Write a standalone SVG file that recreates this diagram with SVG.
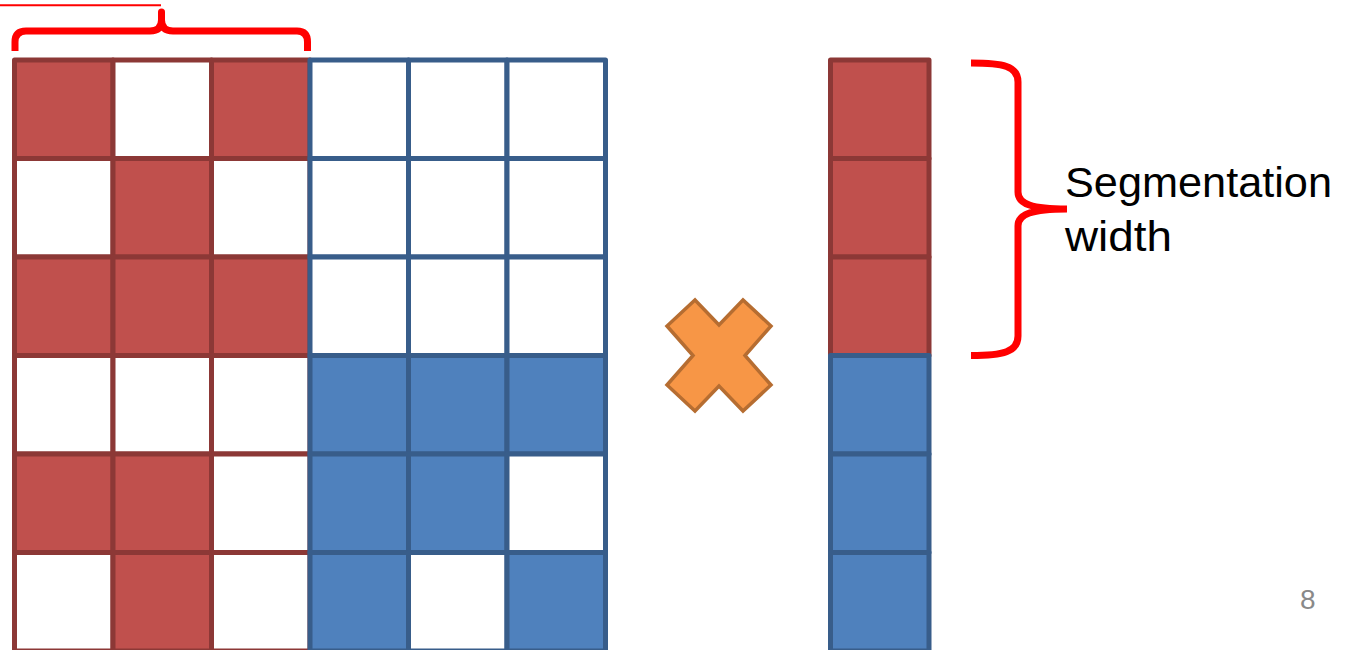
<svg xmlns="http://www.w3.org/2000/svg" width="1349" height="650" viewBox="0 0 1349 650">
<style>
.r{fill:#C0504D;stroke:#8C3836;stroke-width:5;stroke-linejoin:round}
.rw{fill:#FFFFFF;stroke:#8C3836;stroke-width:5;stroke-linejoin:round}
.b{fill:#4F81BD;stroke:#385D8A;stroke-width:5;stroke-linejoin:round}
.bw{fill:#FFFFFF;stroke:#385D8A;stroke-width:5;stroke-linejoin:round}
.br{fill:none;stroke:#FF0000;stroke-width:7}
.lbl{font-family:"Liberation Sans",Arial,sans-serif;font-size:43px;fill:#000000}
</style>
<rect width="1349" height="650" fill="#FFFFFF"/>
<g id="matrix-red">
<rect class="r" x="14.5" y="60" width="98.5" height="98.5"/>
<rect class="rw" x="113" y="60" width="98.5" height="98.5"/>
<rect class="r" x="211.5" y="60" width="98.5" height="98.5"/>
<rect class="rw" x="14.5" y="158.5" width="98.5" height="98.5"/>
<rect class="r" x="113" y="158.5" width="98.5" height="98.5"/>
<rect class="rw" x="211.5" y="158.5" width="98.5" height="98.5"/>
<rect class="r" x="14.5" y="257" width="98.5" height="98.5"/>
<rect class="r" x="113" y="257" width="98.5" height="98.5"/>
<rect class="r" x="211.5" y="257" width="98.5" height="98.5"/>
<rect class="rw" x="14.5" y="355.5" width="98.5" height="98.5"/>
<rect class="rw" x="113" y="355.5" width="98.5" height="98.5"/>
<rect class="rw" x="211.5" y="355.5" width="98.5" height="98.5"/>
<rect class="r" x="14.5" y="454" width="98.5" height="98.5"/>
<rect class="r" x="113" y="454" width="98.5" height="98.5"/>
<rect class="rw" x="211.5" y="454" width="98.5" height="98.5"/>
<rect class="rw" x="14.5" y="552.5" width="98.5" height="98.5"/>
<rect class="r" x="113" y="552.5" width="98.5" height="98.5"/>
<rect class="rw" x="211.5" y="552.5" width="98.5" height="98.5"/>
</g>
<g id="matrix-blue">
<rect class="bw" x="310" y="60" width="98.5" height="98.5"/>
<rect class="bw" x="408.5" y="60" width="98.5" height="98.5"/>
<rect class="bw" x="507" y="60" width="98.5" height="98.5"/>
<rect class="bw" x="310" y="158.5" width="98.5" height="98.5"/>
<rect class="bw" x="408.5" y="158.5" width="98.5" height="98.5"/>
<rect class="bw" x="507" y="158.5" width="98.5" height="98.5"/>
<rect class="bw" x="310" y="257" width="98.5" height="98.5"/>
<rect class="bw" x="408.5" y="257" width="98.5" height="98.5"/>
<rect class="bw" x="507" y="257" width="98.5" height="98.5"/>
<rect class="b" x="310" y="355.5" width="98.5" height="98.5"/>
<rect class="b" x="408.5" y="355.5" width="98.5" height="98.5"/>
<rect class="b" x="507" y="355.5" width="98.5" height="98.5"/>
<rect class="b" x="310" y="454" width="98.5" height="98.5"/>
<rect class="b" x="408.5" y="454" width="98.5" height="98.5"/>
<rect class="bw" x="507" y="454" width="98.5" height="98.5"/>
<rect class="b" x="310" y="552.5" width="98.5" height="98.5"/>
<rect class="bw" x="408.5" y="552.5" width="98.5" height="98.5"/>
<rect class="b" x="507" y="552.5" width="98.5" height="98.5"/>
</g>
<g id="times">
<polygon points="695,300 719,325 743,300 771,326 745,355.5 771,385 743,411 719,386 695,411 667,385 693,355.5 667,326" fill="#F79646" stroke="#B66D31" stroke-width="3.5" stroke-linejoin="miter"/>
</g>
<g id="vector">
<rect class="r" x="830.5" y="60" width="98.5" height="98.5"/>
<rect class="r" x="830.5" y="158.5" width="98.5" height="98.5"/>
<rect class="r" x="830.5" y="257" width="98.5" height="98.5"/>
<rect class="b" x="830.5" y="355.5" width="98.5" height="98.5"/>
<rect class="b" x="830.5" y="454" width="98.5" height="98.5"/>
<rect class="b" x="830.5" y="552.5" width="98.5" height="98.5"/>
</g>
<g id="top-bracket">
<line x1="0" y1="5.3" x2="161" y2="5.3" stroke="#FF0000" stroke-width="2"/>
<path class="br" d="M15,51 V42 Q15,31 26,31 H150 Q161.5,31 161.5,20 V12 M161.5,20 Q161.5,31 173,31 H297 Q307.5,31 307.5,42 V51"/>
<circle cx="161.5" cy="12" r="3.5" fill="#FF0000"/>
</g>
<g id="right-bracket">
<path class="br" d="M971,63 C1003,63 1018,66 1018,82 V192 C1018,204 1032,209 1067,209 M1067,209 C1032,209 1018,214 1018,226 V336 C1018,352 1003,355.5 971,355.5"/>
</g>
<g id="labels">
<text class="lbl" x="1065" y="197" textLength="267" lengthAdjust="spacingAndGlyphs">Segmentation</text>
<text class="lbl" x="1065" y="251" textLength="107" lengthAdjust="spacingAndGlyphs">width</text>
<text x="1300" y="609" font-family="Liberation Sans,Arial,sans-serif" font-size="28" fill="#898989">8</text>
</g>
</svg>
